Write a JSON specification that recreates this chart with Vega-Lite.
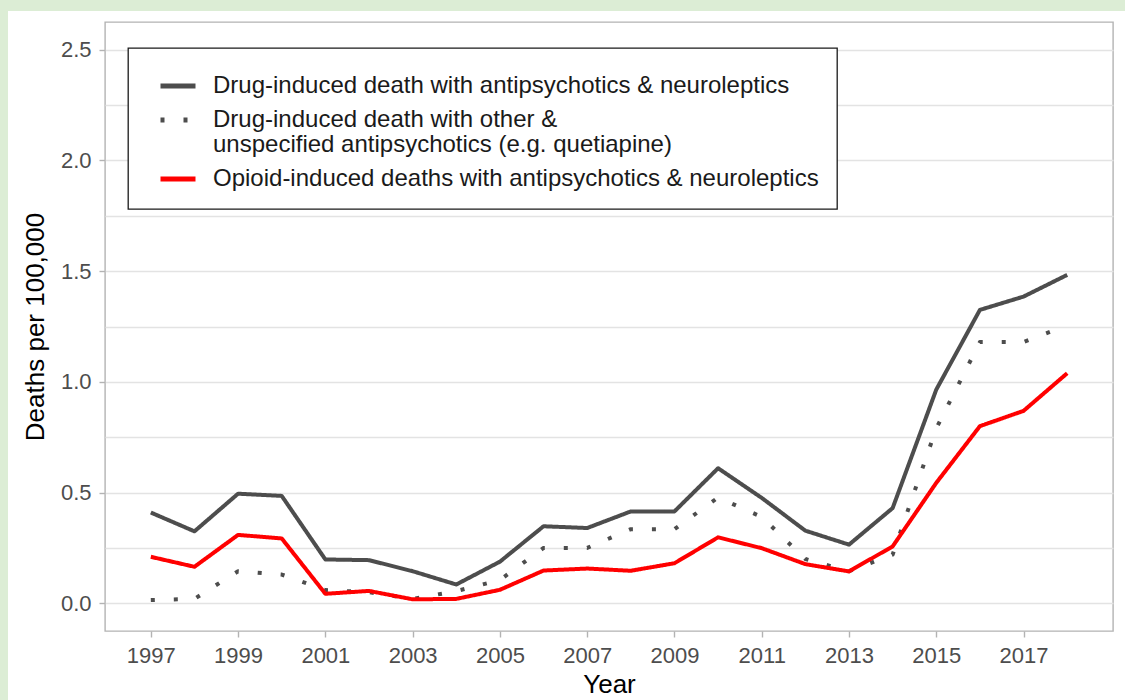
{
  "$schema": "https://vega.github.io/schema/vega-lite/v6.json",
  "width": 1008,
  "height": 609,
  "autosize": {"type": "none"},
  "padding": {"left": 105, "top": 22, "right": 12, "bottom": 69},
  "background": "#ffffff",
  "config": {
    "font": "Liberation Sans",
    "view": {"stroke": "#b3b3b3", "strokeWidth": 1.4},
    "style": {"guide-label": {"lineHeight": 25}},
    "axis": {
      "domain": false,
      "labelFont": "Liberation Sans",
      "labelFontSize": 22,
      "labelColor": "#4d4d4d",
      "tickColor": "#b3b3b3",
      "tickWidth": 1.4,
      "tickSize": 6,
      "titleFont": "Liberation Sans",
      "titleFontSize": 26,
      "titleColor": "#000000",
      "titleFontWeight": "normal",
      "gridColor": "#e3e3e3"
    },
    "legend": {
      "orient": "none",
      "legendX": 23,
      "legendY": 26,
      "padding": 18,
      "symbolOffset": 12,
      "strokeColor": "#1a1a1a",
      "strokeWidth": 1.3,
      "fillColor": "#ffffff",
      "labelFont": "Liberation Sans",
      "labelFontSize": 24,
      "labelColor": "#1a1a1a",
      "labelLimit": 1000,
      "labelOffset": 15,
      "rowPadding": 2,
      "symbolType": "stroke",
      "symbolSize": 1225,
      "symbolStrokeWidth": 5
    }
  },
  "layer": [
    {
      "data": {"values": [{"part": "left"}]},
      "mark": {"type": "rect", "color": "#dcedd5", "clip": false},
      "encoding": {
        "x": {"datum": 1990, "type": "quantitative", "scale": {"domain": [1995.95, 2019.05], "nice": false, "zero": false}},
        "x2": {"datum": 1993.727},
        "y": {"datum": -5, "type": "quantitative", "scale": {"domain": [-0.125, 2.625], "nice": false, "zero": false}},
        "y2": {"datum": 3.5}
      }
    },
    {
      "data": {"values": [{"part": "top"}]},
      "mark": {"type": "rect", "color": "#dcedd5", "clip": false},
      "encoding": {
        "x": {"datum": 1990, "type": "quantitative", "scale": {"domain": [1995.95, 2019.05], "nice": false, "zero": false}},
        "x2": {"datum": 2030},
        "y": {"datum": 2.6747, "type": "quantitative", "scale": {"domain": [-0.125, 2.625], "nice": false, "zero": false}},
        "y2": {"datum": 3.5}
      }
    },
    {
      "data": {
        "values": [
          {"year": 1997, "series": "Drug-induced death with antipsychotics & neuroleptics", "value": 0.41},
          {"year": 1998, "series": "Drug-induced death with antipsychotics & neuroleptics", "value": 0.325},
          {"year": 1999, "series": "Drug-induced death with antipsychotics & neuroleptics", "value": 0.495},
          {"year": 2000, "series": "Drug-induced death with antipsychotics & neuroleptics", "value": 0.485},
          {"year": 2001, "series": "Drug-induced death with antipsychotics & neuroleptics", "value": 0.198},
          {"year": 2002, "series": "Drug-induced death with antipsychotics & neuroleptics", "value": 0.195},
          {"year": 2003, "series": "Drug-induced death with antipsychotics & neuroleptics", "value": 0.145},
          {"year": 2004, "series": "Drug-induced death with antipsychotics & neuroleptics", "value": 0.085},
          {"year": 2005, "series": "Drug-induced death with antipsychotics & neuroleptics", "value": 0.188},
          {"year": 2006, "series": "Drug-induced death with antipsychotics & neuroleptics", "value": 0.348},
          {"year": 2007, "series": "Drug-induced death with antipsychotics & neuroleptics", "value": 0.34},
          {"year": 2008, "series": "Drug-induced death with antipsychotics & neuroleptics", "value": 0.415},
          {"year": 2009, "series": "Drug-induced death with antipsychotics & neuroleptics", "value": 0.415},
          {"year": 2010, "series": "Drug-induced death with antipsychotics & neuroleptics", "value": 0.61},
          {"year": 2011, "series": "Drug-induced death with antipsychotics & neuroleptics", "value": 0.476},
          {"year": 2012, "series": "Drug-induced death with antipsychotics & neuroleptics", "value": 0.328},
          {"year": 2013, "series": "Drug-induced death with antipsychotics & neuroleptics", "value": 0.265},
          {"year": 2014, "series": "Drug-induced death with antipsychotics & neuroleptics", "value": 0.43},
          {"year": 2015, "series": "Drug-induced death with antipsychotics & neuroleptics", "value": 0.965},
          {"year": 2016, "series": "Drug-induced death with antipsychotics & neuroleptics", "value": 1.325},
          {"year": 2017, "series": "Drug-induced death with antipsychotics & neuroleptics", "value": 1.385},
          {"year": 2018, "series": "Drug-induced death with antipsychotics & neuroleptics", "value": 1.483},
          {"year": 1997, "series": "Drug-induced death with other & unspecified antipsychotics (e.g. quetiapine)", "value": 0.015},
          {"year": 1998, "series": "Drug-induced death with other & unspecified antipsychotics (e.g. quetiapine)", "value": 0.02},
          {"year": 1999, "series": "Drug-induced death with other & unspecified antipsychotics (e.g. quetiapine)", "value": 0.145},
          {"year": 2000, "series": "Drug-induced death with other & unspecified antipsychotics (e.g. quetiapine)", "value": 0.13},
          {"year": 2001, "series": "Drug-induced death with other & unspecified antipsychotics (e.g. quetiapine)", "value": 0.06},
          {"year": 2002, "series": "Drug-induced death with other & unspecified antipsychotics (e.g. quetiapine)", "value": 0.05},
          {"year": 2003, "series": "Drug-induced death with other & unspecified antipsychotics (e.g. quetiapine)", "value": 0.02},
          {"year": 2004, "series": "Drug-induced death with other & unspecified antipsychotics (e.g. quetiapine)", "value": 0.055},
          {"year": 2005, "series": "Drug-induced death with other & unspecified antipsychotics (e.g. quetiapine)", "value": 0.105},
          {"year": 2006, "series": "Drug-induced death with other & unspecified antipsychotics (e.g. quetiapine)", "value": 0.25},
          {"year": 2007, "series": "Drug-induced death with other & unspecified antipsychotics (e.g. quetiapine)", "value": 0.25},
          {"year": 2008, "series": "Drug-induced death with other & unspecified antipsychotics (e.g. quetiapine)", "value": 0.335},
          {"year": 2009, "series": "Drug-induced death with other & unspecified antipsychotics (e.g. quetiapine)", "value": 0.335},
          {"year": 2010, "series": "Drug-induced death with other & unspecified antipsychotics (e.g. quetiapine)", "value": 0.478},
          {"year": 2011, "series": "Drug-induced death with other & unspecified antipsychotics (e.g. quetiapine)", "value": 0.39},
          {"year": 2012, "series": "Drug-induced death with other & unspecified antipsychotics (e.g. quetiapine)", "value": 0.2},
          {"year": 2013, "series": "Drug-induced death with other & unspecified antipsychotics (e.g. quetiapine)", "value": 0.145},
          {"year": 2014, "series": "Drug-induced death with other & unspecified antipsychotics (e.g. quetiapine)", "value": 0.22},
          {"year": 2015, "series": "Drug-induced death with other & unspecified antipsychotics (e.g. quetiapine)", "value": 0.79},
          {"year": 2016, "series": "Drug-induced death with other & unspecified antipsychotics (e.g. quetiapine)", "value": 1.18},
          {"year": 2017, "series": "Drug-induced death with other & unspecified antipsychotics (e.g. quetiapine)", "value": 1.18},
          {"year": 2018, "series": "Drug-induced death with other & unspecified antipsychotics (e.g. quetiapine)", "value": 1.255},
          {"year": 1997, "series": "Opioid-induced deaths with antipsychotics & neuroleptics", "value": 0.21},
          {"year": 1998, "series": "Opioid-induced deaths with antipsychotics & neuroleptics", "value": 0.165},
          {"year": 1999, "series": "Opioid-induced deaths with antipsychotics & neuroleptics", "value": 0.309},
          {"year": 2000, "series": "Opioid-induced deaths with antipsychotics & neuroleptics", "value": 0.293},
          {"year": 2001, "series": "Opioid-induced deaths with antipsychotics & neuroleptics", "value": 0.043},
          {"year": 2002, "series": "Opioid-induced deaths with antipsychotics & neuroleptics", "value": 0.056},
          {"year": 2003, "series": "Opioid-induced deaths with antipsychotics & neuroleptics", "value": 0.018},
          {"year": 2004, "series": "Opioid-induced deaths with antipsychotics & neuroleptics", "value": 0.02},
          {"year": 2005, "series": "Opioid-induced deaths with antipsychotics & neuroleptics", "value": 0.061},
          {"year": 2006, "series": "Opioid-induced deaths with antipsychotics & neuroleptics", "value": 0.148},
          {"year": 2007, "series": "Opioid-induced deaths with antipsychotics & neuroleptics", "value": 0.157},
          {"year": 2008, "series": "Opioid-induced deaths with antipsychotics & neuroleptics", "value": 0.147},
          {"year": 2009, "series": "Opioid-induced deaths with antipsychotics & neuroleptics", "value": 0.181},
          {"year": 2010, "series": "Opioid-induced deaths with antipsychotics & neuroleptics", "value": 0.298},
          {"year": 2011, "series": "Opioid-induced deaths with antipsychotics & neuroleptics", "value": 0.249},
          {"year": 2012, "series": "Opioid-induced deaths with antipsychotics & neuroleptics", "value": 0.177},
          {"year": 2013, "series": "Opioid-induced deaths with antipsychotics & neuroleptics", "value": 0.144},
          {"year": 2014, "series": "Opioid-induced deaths with antipsychotics & neuroleptics", "value": 0.257},
          {"year": 2015, "series": "Opioid-induced deaths with antipsychotics & neuroleptics", "value": 0.544},
          {"year": 2016, "series": "Opioid-induced deaths with antipsychotics & neuroleptics", "value": 0.8},
          {"year": 2017, "series": "Opioid-induced deaths with antipsychotics & neuroleptics", "value": 0.869},
          {"year": 2018, "series": "Opioid-induced deaths with antipsychotics & neuroleptics", "value": 1.039}
        ]
      },
      "mark": {"type": "line", "strokeWidth": 4, "strokeCap": "butt", "strokeJoin": "round"},
      "encoding": {
        "x": {
          "field": "year",
          "type": "quantitative",
          "scale": {"domain": [1995.95, 2019.05], "nice": false, "zero": false},
          "axis": {
            "values": [1997, 1999, 2001, 2003, 2005, 2007, 2009, 2011, 2013, 2015, 2017],
            "format": "d",
            "grid": false,
            "labelFlush": false,
            "labelPadding": 8,
            "title": "Year",
            "titlePadding": 5
          }
        },
        "y": {
          "field": "value",
          "type": "quantitative",
          "scale": {"domain": [-0.125, 2.625], "nice": false, "zero": false},
          "axis": {
            "values": [0, 0.25, 0.5, 0.75, 1, 1.25, 1.5, 1.75, 2, 2.25, 2.5],
            "grid": true,
            "gridWidth": 1.5,
            "labelExpr": "(datum.value * 2) % 1 == 0 ? format(datum.value, '.1f') : ''",
            "tickOpacity": {"condition": {"test": "(datum.value * 2) % 1 != 0", "value": 0}, "value": 1},
            "labelFlush": false,
            "labelPadding": 8,
            "title": "Deaths per 100,000",
            "titlePadding": 12
          }
        },
        "color": {
          "field": "series",
          "type": "nominal",
          "scale": {
            "domain": [
              "Drug-induced death with antipsychotics & neuroleptics",
              "Drug-induced death with other & unspecified antipsychotics (e.g. quetiapine)",
              "Opioid-induced deaths with antipsychotics & neuroleptics"
            ],
            "range": ["#4d4d4d", "#4d4d4d", "#ff0000"]
          },
          "legend": {
            "title": null,
            "labelExpr": "datum.label == 'Drug-induced death with other & unspecified antipsychotics (e.g. quetiapine)' ? ['Drug-induced death with other &', 'unspecified antipsychotics (e.g. quetiapine)'] : datum.label"
          }
        },
        "strokeDash": {
          "field": "series",
          "type": "nominal",
          "scale": {
            "domain": [
              "Drug-induced death with antipsychotics & neuroleptics",
              "Drug-induced death with other & unspecified antipsychotics (e.g. quetiapine)",
              "Opioid-induced deaths with antipsychotics & neuroleptics"
            ],
            "range": [[1, 0], [4, 19], [1, 0]]
          },
          "legend": {
            "title": null,
            "labelExpr": "datum.label == 'Drug-induced death with other & unspecified antipsychotics (e.g. quetiapine)' ? ['Drug-induced death with other &', 'unspecified antipsychotics (e.g. quetiapine)'] : datum.label"
          }
        }
      }
    }
  ]
}
